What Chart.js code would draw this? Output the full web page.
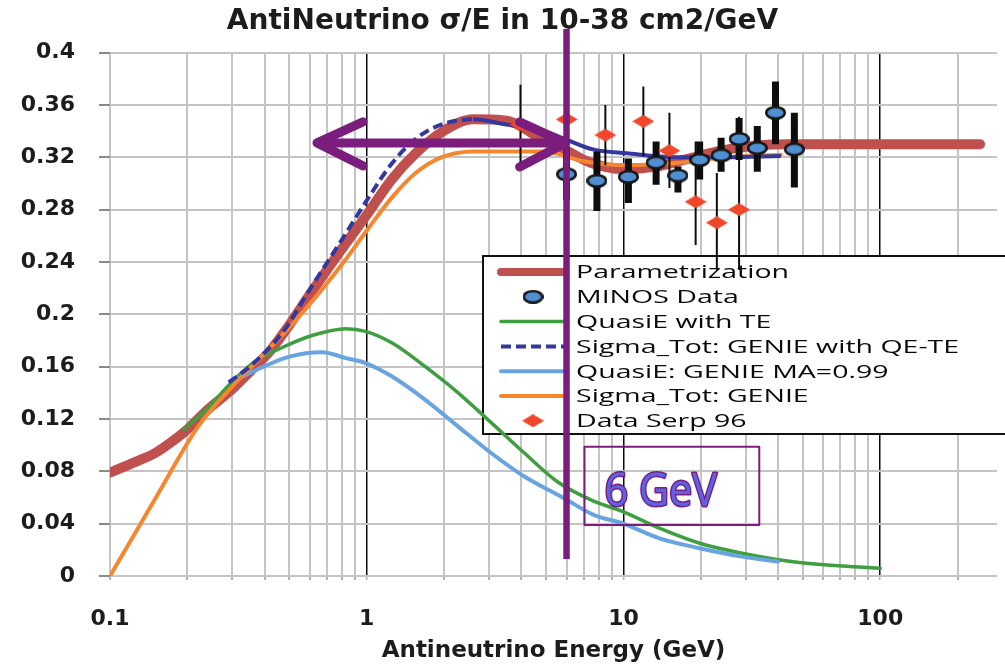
<!DOCTYPE html>
<html>
<head>
<meta charset="utf-8">
<title>AntiNeutrino σ/E</title>
<script src="https://cdn.jsdelivr.net/npm/chart.js@4.4.1/dist/chart.umd.min.js"></script>
<style>
  html, body { margin: 0; padding: 0; background: #ffffff; overflow: hidden; }
  #wrap { width: 1005px; height: 665px; }
</style>
</head>
<body>
<div id="wrap"><canvas id="chart" width="1005" height="665"></canvas></div>
<script>
// Energy E in GeV, sigma/E in 1e-38 cm2/GeV

// Parametrization (thick curve)
const paramE = [0.1, 0.125, 0.15, 0.175, 0.2, 0.24, 0.3, 0.35, 0.42, 0.5, 0.6, 0.8, 1.0, 1.25, 1.55, 1.95, 2.6, 3.5, 4.8, 5.9, 7.4, 10, 13.4, 18, 24, 33, 44, 70, 120, 245];
const paramS = [0.079, 0.087, 0.094, 0.103, 0.112, 0.127, 0.143, 0.156, 0.172, 0.192, 0.215, 0.250, 0.276, 0.303, 0.323, 0.339, 0.349, 0.348, 0.334, 0.326, 0.316, 0.311, 0.313, 0.319, 0.325, 0.329, 0.330, 0.330, 0.330, 0.330];

// QuasiE with TE
const qeTeE = [0.194, 0.239, 0.294, 0.362, 0.473, 0.617, 0.83, 0.99, 1.256, 1.69, 2.27, 3.06, 4.11, 5.53, 7.5, 10, 13.8, 19.8, 29, 45, 71, 100];
const qeTeS = [0.112, 0.128, 0.147, 0.163, 0.175, 0.184, 0.189, 0.187, 0.178, 0.160, 0.140, 0.117, 0.094, 0.072, 0.058, 0.049, 0.0365, 0.025, 0.0174, 0.011, 0.0076, 0.0059];

// Sigma_Tot: GENIE with QE-TE
const totTeE = [0.29, 0.35, 0.47, 0.6, 0.8, 1.0, 1.25, 1.55, 1.95, 2.6, 3.5, 4.9, 5.9, 7.6, 10.3, 16, 25, 41];
const totTeS = [0.148, 0.160, 0.186, 0.219, 0.257, 0.287, 0.315, 0.334, 0.345, 0.349, 0.345, 0.340, 0.334, 0.326, 0.323, 0.320, 0.320, 0.321];

// QuasiE: GENIE MA=0.99
const qeGenieE = [0.31, 0.396, 0.5, 0.67, 0.83, 0.99, 1.256, 1.69, 2.27, 3.06, 4.11, 5.87, 7.65, 10, 13.8, 19.8, 29, 40];
const qeGenieS = [0.150, 0.160, 0.1677, 0.171, 0.1665, 0.1627, 0.1524, 0.1346, 0.1142, 0.0938, 0.076, 0.0594, 0.0467, 0.040, 0.0288, 0.0212, 0.0148, 0.011];

// Sigma_Tot: GENIE
const totGenieE = [0.1, 0.15, 0.22, 0.3, 0.4, 0.5, 0.65, 0.8, 1.0, 1.25, 1.55, 1.95, 2.6, 4.0, 4.9, 7.0, 10.3, 16, 25, 41];
const totGenieS = [0.0, 0.059, 0.114, 0.145, 0.170, 0.190, 0.216, 0.238, 0.264, 0.289, 0.308, 0.320, 0.3245, 0.3245, 0.3245, 0.317, 0.314, 0.3156, 0.320, 0.322];

// MINOS Data with error ranges
const minosE  = [6.0, 7.88, 10.45, 13.4, 16.3, 19.8, 24.0, 28.2, 33.2, 39.1, 46.3];
const minosS  = [0.307, 0.302, 0.305, 0.316, 0.306, 0.318, 0.3215, 0.334, 0.327, 0.354, 0.326];
const minosLo = [0.287, 0.279, 0.285, 0.299, 0.293, 0.303, 0.309, 0.318, 0.309, 0.330, 0.297];
const minosHi = [0.327, 0.3245, 0.319, 0.332, 0.313, 0.332, 0.335, 0.350, 0.344, 0.378, 0.354];

// Data Serp 96 with error ranges
const serpE  = [3.97, 6.01, 8.5, 11.95, 15.1, 19.1, 23.1, 28.2];
const serpS  = [0.345, 0.349, 0.337, 0.3475, 0.325, 0.286, 0.270, 0.280];
const serpLo = [0.315, 0.325, 0.314, 0.321, 0.2965, 0.253, 0.234, 0.234];
const serpHi = [0.3755, 0.373, 0.360, 0.374, 0.354, 0.332, 0.308, 0.351];

// Axis ticks
const xTickValues = [0.1,0.2,0.3,0.4,0.5,0.6,0.7,0.8,0.9, 1,2,3,4,5,6,7,8,9, 10,20,30,40,50,60,70,80,90, 100,200];
const xTickLabels = ['0.1','','','','','','','','', '1','','','','','','','','', '10','','','','','','','','', '100',''];
const xMin = 0.1, xMax = 285;
const yMin = 0, yMax = 0.4, yStep = 0.04;

// 6 GeV marker
const markE = 6.0, markTop = 0.418, markBottom = 0.013;
const arrowFromE = 0.64, arrowToE = 5.95, arrowLevel = 0.331;
const boxFromE = 7.05, boxToE = 33.8, boxTopS = 0.0987, boxBottomS = 0.039;
const boxText = '6 GeV';

const legendOrder = ['Parametrization', 'MINOS Data', 'QuasiE with TE', 'Sigma_Tot: GENIE with QE-TE', 'QuasiE: GENIE MA=0.99', 'Sigma_Tot: GENIE', 'Data Serp 96'];

// ---- helpers ----
const toPoints = (xs, ys) => xs.map((x, i) => ({ x, y: ys[i] }));
const errorSegments = (xs, lo, hi) => xs.flatMap((x, i) => [{ x, y: lo[i] }, { x, y: hi[i] }, { x, y: null }]);

function ellipseMarker(w, h, fill, stroke, lw) {
  const c = document.createElement('canvas');
  c.width = w; c.height = h;
  const g = c.getContext('2d');
  g.beginPath();
  g.ellipse(w / 2, h / 2, w / 2 - lw / 2, h / 2 - lw / 2, 0, 0, Math.PI * 2);
  g.fillStyle = fill; g.fill();
  g.lineWidth = lw; g.strokeStyle = stroke; g.stroke();
  return c;
}
function diamondMarker(w, h, fill) {
  const c = document.createElement('canvas');
  c.width = w; c.height = h;
  const g = c.getContext('2d');
  g.beginPath();
  g.moveTo(w / 2, 0); g.lineTo(w, h / 2); g.lineTo(w / 2, h); g.lineTo(0, h / 2); g.closePath();
  g.fillStyle = fill; g.fill();
  return c;
}
const minosMarker = ellipseMarker(21, 14, '#4f8fd2', '#161616', 2.5);
const serpMarker = diamondMarker(22, 13, '#f0462a');

const PURPLE = '#7b1d7c';

const curve = (label, xs, ys, color, width, extra) => Object.assign({
  label, data: toPoints(xs, ys), borderColor: color, backgroundColor: color,
  borderWidth: width, pointRadius: 0, fill: false,
  cubicInterpolationMode: 'monotone', borderCapStyle: 'round', borderJoinStyle: 'round'
}, extra || {});

// dataset 0 is drawn on top, the last one at the bottom
const datasets = [
  { label: 'MINOS Data', data: toPoints(minosE, minosS), showLine: false,
    pointStyle: minosMarker, pointRadius: 7, borderColor: '#161616', backgroundColor: '#4f8fd2' },
  { label: 'Data Serp 96', data: toPoints(serpE, serpS), showLine: false,
    pointStyle: serpMarker, pointRadius: 7, borderColor: '#f0462a', backgroundColor: '#f0462a' },
  { label: 'MINOS errors', data: errorSegments(minosE, minosLo, minosHi), borderColor: '#0d0d0d',
    borderWidth: 7, pointRadius: 0, spanGaps: false, borderCapStyle: 'butt' },
  { label: 'Serp errors', data: errorSegments(serpE, serpLo, serpHi), borderColor: '#0d0d0d',
    borderWidth: 2, pointRadius: 0, spanGaps: false, borderCapStyle: 'butt' },
  curve('Sigma_Tot: GENIE with QE-TE', totTeE, totTeS, '#34379f', 4, {
    borderDash: [], legendDash: [10, 5], borderCapStyle: 'butt',
    segment: { borderDash: c => (c.p0.parsed.x < 2.6 ? [10, 5] : undefined) } }),
  curve('Sigma_Tot: GENIE', totGenieE, totGenieS, '#f7872e', 4),
  curve('QuasiE: GENIE MA=0.99', qeGenieE, qeGenieS, '#68a5e0', 4),
  curve('QuasiE with TE', qeTeE, qeTeS, '#3f9e3f', 3.5),
  curve('Parametrization', paramE, paramS, '#c0504d', 10)
];

// Legend box sitting behind the curves, above the grid
const legendBoxPlugin = {
  id: 'legendBox',
  beforeDatasetsDraw(chart) {
    const ctx = chart.ctx;
    const left = 483, top = 256, bottom = 434, right = 1040;
    ctx.save();
    ctx.fillStyle = '#ffffff';
    ctx.fillRect(left, top, right - left, bottom - top);
    ctx.lineWidth = 2;
    ctx.strokeStyle = '#111111';
    ctx.strokeRect(left, top, right - left, bottom - top);
    const rowY0 = 272, rowStep = 24.8, s0 = 498, s1 = 568, tx = 576;
    legendOrder.forEach((name, i) => {
      const ds = chart.data.datasets.find(d => d.label === name);
      const y = rowY0 + i * rowStep;
      if (ds.showLine === false) {
        const img = ds.pointStyle;
        ctx.drawImage(img, (s0 + s1) / 2 - img.width / 2, y - img.height / 2);
      } else {
        ctx.beginPath();
        ctx.setLineDash(ds.legendDash || []);
        ctx.lineCap = ds.legendDash ? 'butt' : 'round';
        ctx.lineWidth = Math.min(ds.borderWidth, 8);
        ctx.strokeStyle = ds.borderColor;
        ctx.moveTo(s0 + 3, y); ctx.lineTo(s1 - 3, y);
        ctx.stroke();
        ctx.setLineDash([]);
      }
      ctx.save();
      ctx.translate(tx, y);
      ctx.scale(1.5, 1);
      ctx.font = '19px "Open Sans"';
      ctx.fillStyle = '#0a0a0a';
      ctx.textBaseline = 'middle';
      ctx.textAlign = 'left';
      ctx.fillText(name, 0, 1);
      ctx.restore();
    });
    ctx.restore();
  }
};

// Purple 6 GeV marker line, double arrow and label box
const markerPlugin = {
  id: 'sixGeV',
  afterDatasetsDraw(chart) {
    const ctx = chart.ctx, xs = chart.scales.x, ys = chart.scales.y;
    ctx.save();
    ctx.strokeStyle = PURPLE;
    ctx.lineCap = 'butt';
    ctx.lineWidth = 6.5;
    const mx = xs.getPixelForValue(markE);
    ctx.beginPath();
    ctx.moveTo(mx, ys.getPixelForValue(markTop));
    ctx.lineTo(mx, ys.getPixelForValue(markBottom));
    ctx.stroke();

    const ax0 = xs.getPixelForValue(arrowFromE), ax1 = xs.getPixelForValue(arrowToE);
    const ay = ys.getPixelForValue(arrowLevel);
    ctx.lineWidth = 9;
    ctx.lineCap = 'round';
    ctx.lineJoin = 'round';
    ctx.beginPath();
    ctx.moveTo(ax0 + 4, ay); ctx.lineTo(ax1 - 4, ay);
    ctx.stroke();
    ctx.beginPath();
    ctx.moveTo(ax0 + 46, ay - 21); ctx.lineTo(ax0, ay); ctx.lineTo(ax0 + 46, ay + 23);
    ctx.stroke();
    ctx.beginPath();
    ctx.moveTo(ax1 - 46, ay - 21); ctx.lineTo(ax1, ay); ctx.lineTo(ax1 - 46, ay + 24);
    ctx.stroke();

    const bx0 = xs.getPixelForValue(boxFromE), bx1 = xs.getPixelForValue(boxToE);
    const by0 = ys.getPixelForValue(boxTopS), by1 = ys.getPixelForValue(boxBottomS);
    ctx.lineWidth = 2;
    ctx.lineCap = 'butt';
    ctx.strokeRect(bx0, by0, bx1 - bx0, by1 - by0);
    ctx.save();
    ctx.translate(bx0 + 20, by1 - 19);
    ctx.scale(0.92, 1);
    ctx.font = '45px "Open Sans"';
    ctx.textBaseline = 'alphabetic';
    ctx.lineWidth = 3;
    ctx.strokeStyle = PURPLE;
    ctx.strokeText(boxText, 0, 0);
    ctx.fillStyle = '#5a62e6';
    ctx.fillText(boxText, 0, 0);
    ctx.restore();
    ctx.restore();
  }
};

new Chart(document.getElementById('chart'), {
  type: 'line',
  data: { datasets },
  plugins: [legendBoxPlugin, markerPlugin],
  options: {
    responsive: false,
    animation: false,
    devicePixelRatio: 1,
    layout: { padding: 0 },
    plugins: {
      legend: { display: false },
      tooltip: { enabled: false },
      title: {
        display: true,
        text: 'AntiNeutrino σ/E in 10-38 cm2/GeV',
        color: '#1c1c1c',
        font: { family: 'DejaVu Sans', weight: 'bold', size: 28 },
        padding: { top: 5, bottom: 14 }
      }
    },
    scales: {
      x: {
        type: 'logarithmic',
        min: xMin, max: xMax,
        afterBuildTicks(scale) { scale.ticks = xTickValues.map(v => ({ value: v })); },
        afterFit(scale) { scale.height = 89; },
        border: { display: false },
        grid: {
          color: c => (c.tick && xTickLabels[c.index] && c.tick.value !== xMin ? '#0a0a0a' : '#c4c4c4'),
          lineWidth: c => (c.tick && xTickLabels[c.index] && c.tick.value !== xMin ? 1.5 : 2),
          tickLength: 4,
          tickColor: '#b0b0b0'
        },
        ticks: {
          autoSkip: false, maxRotation: 0, minRotation: 0,
          padding: 26,
          color: '#1c1c1c',
          font: { family: 'DejaVu Sans', weight: 'bold', size: 22 },
          callback: (v, i) => xTickLabels[i]
        },
        title: {
          display: true,
          text: 'Antineutrino Energy (GeV)',
          color: '#1c1c1c',
          font: { family: 'DejaVu Sans', weight: 'bold', size: 23 },
          padding: { top: 0, bottom: 0 }
        }
      },
      y: {
        min: yMin, max: yMax,
        afterFit(scale) { scale.width = 110; },
        border: { display: false },
        grid: { color: '#c4c4c4', lineWidth: 2, tickLength: 11, tickColor: '#8a8a8a' },
        ticks: {
          stepSize: yStep,
          padding: 24,
          color: '#1c1c1c',
          font: { family: 'DejaVu Sans', weight: 'bold', size: 22 },
          callback: v => String(+v.toFixed(2))
        }
      }
    }
  }
});
</script>
</body>
</html>
